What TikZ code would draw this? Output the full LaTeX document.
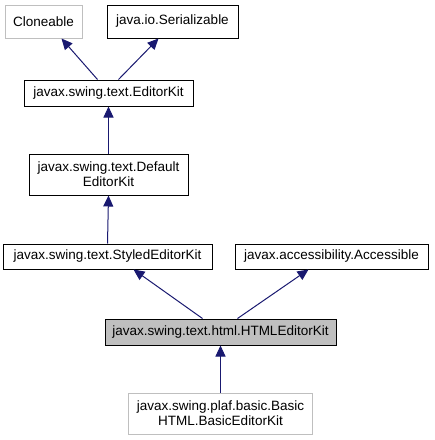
\documentclass[tikz,border=0pt]{standalone}
\usepackage{fontspec}
\setmainfont{Liberation Sans}
\usetikzlibrary{arrows.meta}
\definecolor{edgeblue}{HTML}{191970}
\definecolor{boxgrey}{HTML}{BFBFBF}

\begin{document}
\begin{tikzpicture}[x=1pt, y=-1pt,
    box/.style={draw=black, line width=1pt, inner sep=0pt, align=center,
      font=\fontsize{13.5}{15}\selectfont},
    greybox/.style={box, draw=boxgrey},
    arr/.style={-{Triangle[length=11pt,width=10pt]}, draw=edgeblue, line width=1pt}]
    \useasboundingbox (0,0) rectangle (435,440);
    \node[greybox, minimum width=77pt, minimum height=33pt] (clone) at (43.5,21.5) {Cloneable};
    \node[box, minimum width=131pt, minimum height=33pt] (serial) at (172.5,21.5) {java.io.Serializable};
    \node[box, minimum width=169pt, minimum height=26pt] (ekit) at (108.5,93) {javax.swing.text.EditorKit};
    \node[box, minimum width=159pt, minimum height=41pt] (dkit) at (108.5,174.5) {javax.swing.text.Default\\EditorKit};
    \node[box, minimum width=209pt, minimum height=25pt] (skit) at (107.5,256.5) {javax.swing.text.StyledEditorKit};
    \node[box, minimum width=193pt, minimum height=25pt] (acc) at (331.5,256.5) {javax.accessibility.Accessible};
    \node[box, fill=boxgrey, minimum width=231pt, minimum height=26pt] (html) at (220.5,332) {javax.swing.text.html.HTMLEditorKit};
    \node[greybox, minimum width=184pt, minimum height=41pt] (basic) at (220.5,413.5) {javax.swing.plaf.basic.Basic\\HTML.BasicEditorKit};
    % inheritance
    \draw[arr] ([xshift=-11pt]ekit.north) -- ([xshift=18pt]clone.south);
    \draw[arr] ([xshift=10pt]ekit.north) -- ([xshift=-14pt]serial.south);
    \draw[arr] (dkit.north) -- (ekit.south);
    \draw[arr] (skit.north) -- (dkit.south);
    \draw[arr] ([xshift=-18pt]html.north) -- ([xshift=26pt]skit.south);
    \draw[arr] ([xshift=17pt]html.north) -- ([xshift=-23pt]acc.south);
    \draw[arr] (basic.north) -- (html.south);
\end{tikzpicture}
\end{document}
